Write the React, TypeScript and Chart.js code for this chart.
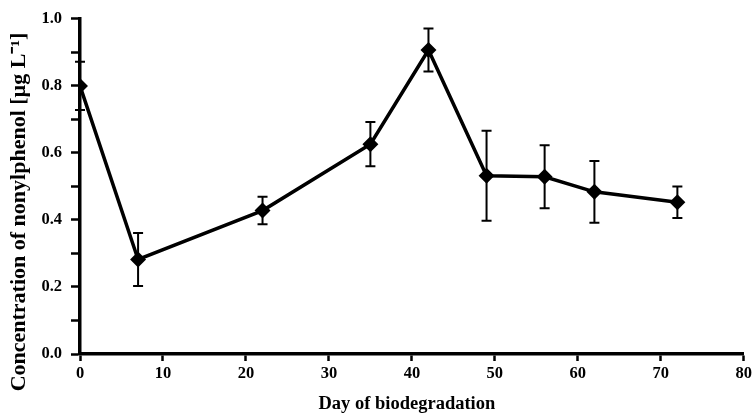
import React, { useEffect, useRef } from "react";
import { Chart, registerables } from "chart.js";

Chart.register(...registerables);

const days = [0, 7, 22, 35, 42, 49, 56, 62, 72];
const concentration = [0.80, 0.282, 0.428, 0.626, 0.907, 0.532, 0.529, 0.484, 0.453];
const errorValues = [0.072, 0.079, 0.041, 0.066, 0.064, 0.134, 0.094, 0.092, 0.047];
const xTitle = "Day of biodegradation";
const yTitle = "Concentration of nonylphenol [µg L⁻¹]";

const FONT = "'Liberation Serif', 'Times New Roman', serif";

const errorBarPlugin = {
  id: "errorBars",
  afterDatasetsDraw(chart: any) {
    const ctx = chart.ctx;
    const xs = chart.scales.x;
    const ys = chart.scales.y;
    ctx.save();
    ctx.strokeStyle = "#000";
    ctx.lineWidth = 2;
    days.forEach((d, i) => {
      const x = xs.getPixelForValue(d);
      const yt = ys.getPixelForValue(concentration[i] + errorValues[i]);
      const yb = ys.getPixelForValue(concentration[i] - errorValues[i]);
      ctx.beginPath();
      ctx.moveTo(x, yt);
      ctx.lineTo(x, yb);
      ctx.moveTo(x - 5, yt);
      ctx.lineTo(x + 5, yt);
      ctx.moveTo(x - 5, yb);
      ctx.lineTo(x + 5, yb);
      ctx.stroke();
    });
    ctx.restore();
  },
};

const titlesPlugin = {
  id: "axisTitles",
  afterDraw(chart: any) {
    const ctx = chart.ctx;
    const area = chart.chartArea;
    ctx.save();
    ctx.fillStyle = "#000";
    ctx.textAlign = "center";
    ctx.textBaseline = "alphabetic";
    ctx.font = `bold 18.5px ${FONT}`;
    ctx.fillText(xTitle, (area.left + area.right) / 2 - 5, 409);
    ctx.translate(25, 212);
    ctx.rotate(-Math.PI / 2);
    ctx.font = `bold 22px ${FONT}`;
    ctx.fillText(yTitle, 0, 0);
    ctx.restore();
  },
};

export default function App() {
  const ref = useRef<HTMLCanvasElement | null>(null);
  useEffect(() => {
    if (!ref.current) return;
    const chart = new Chart(ref.current, {
      type: "line",
      data: {
        datasets: [
          {
            data: days.map((d, i) => ({ x: d, y: concentration[i] })),
            borderColor: "#000",
            backgroundColor: "#000",
            borderWidth: 3.5,
            pointStyle: "rectRot",
            pointRadius: 5.5,
            pointBackgroundColor: "#000",
            pointBorderColor: "#000",
            tension: 0,
          },
        ],
      },
      options: {
        animation: false,
        responsive: false,
        maintainAspectRatio: false,
        layout: { padding: { top: 6, right: 10, left: 0, bottom: 0 } },
        plugins: { legend: { display: false }, tooltip: { enabled: false } },
        scales: {
          x: {
            type: "linear",
            min: 0,
            max: 80,
            afterFit: (s: any) => { s.height = 60; },
            ticks: {
              stepSize: 10,
              color: "#000",
              padding: 3,
              font: { family: FONT, size: 16.5, weight: "bold" },
              maxRotation: 0,
            },
            grid: { drawOnChartArea: false, drawTicks: true, tickLength: 7, tickWidth: 2.5, color: "#000" },
            border: { display: true, color: "#000", width: 3.5 },
          },
          y: {
            min: 0,
            max: 1,
            afterFit: (s: any) => { s.width = 80; },
            ticks: {
              stepSize: 0.1,
              color: "#000",
              padding: 9,
              font: { family: FONT, size: 16.5, weight: "bold" },
              callback: (v: any) => {
                const n = Math.round(Number(v) * 10);
                return n % 2 === 0 ? (n / 10).toFixed(1) : "";
              },
            },
            grid: { drawOnChartArea: false, drawTicks: true, tickLength: 9, tickWidth: 2.5, color: "#000" },
            border: { display: true, color: "#000", width: 3.5 },
          },
        },
      },
      plugins: [errorBarPlugin, titlesPlugin],
    } as any);
    return () => chart.destroy();
  }, []);
  return (
    <div style={{ position: "fixed", left: 0, top: 0, width: 755, height: 414, background: "#fff" }}>
      <canvas ref={ref} width={755} height={414} style={{ width: 755, height: 414 }} />
    </div>
  );
}
